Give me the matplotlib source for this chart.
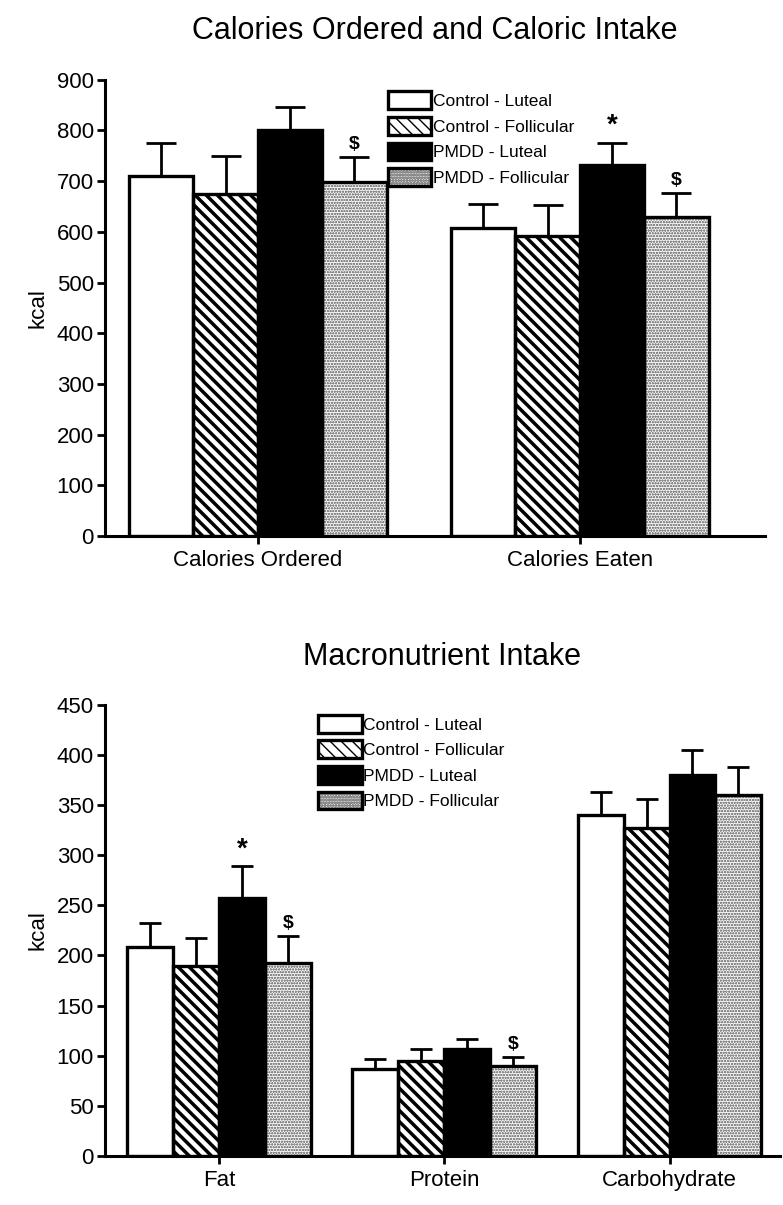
import numpy as np
import matplotlib.pyplot as plt

plt.rcParams['font.family'] = ['Liberation Sans', 'DejaVu Sans']

# ---------------- Data ----------------
groups = ["Control - Luteal", "Control - Follicular", "PMDD - Luteal", "PMDD - Follicular"]

cal_categories = ["Calories Ordered", "Calories Eaten"]
cal_means = {
    "Control - Luteal": [710, 607],
    "Control - Follicular": [675, 592],
    "PMDD - Luteal": [800, 732],
    "PMDD - Follicular": [698, 630],
}
cal_sem = {
    "Control - Luteal": [65, 48],
    "Control - Follicular": [75, 60],
    "PMDD - Luteal": [45, 43],
    "PMDD - Follicular": [50, 47],
}
cal_marks = {("PMDD - Luteal", 1): "*", ("PMDD - Follicular", 0): "$", ("PMDD - Follicular", 1): "$"}

macro_categories = ["Fat", "Protein", "Carbohydrate"]
macro_means = {
    "Control - Luteal": [208, 87, 340],
    "Control - Follicular": [190, 95, 327],
    "PMDD - Luteal": [257, 107, 380],
    "PMDD - Follicular": [193, 90, 360],
}
macro_sem = {
    "Control - Luteal": [24, 10, 23],
    "Control - Follicular": [27, 12, 29],
    "PMDD - Luteal": [32, 10, 25],
    "PMDD - Follicular": [26, 9, 28],
}
macro_marks = {("PMDD - Luteal", 0): "*", ("PMDD - Follicular", 0): "$", ("PMDD - Follicular", 1): "$"}

# ---------------- Styles ----------------
# (face colour, hatch, hatch colour, hatch linewidth)
styles = {
    "Control - Luteal": ("white", None, "black", 1.0),
    "Control - Follicular": ("white", "\\\\\\", "black", 2.5),
    "PMDD - Luteal": ("black", None, "black", 1.0),
    "PMDD - Follicular": ("#f4f4f4", "oooooo", "#8a8a8a", 0.6),
}


def draw_panel(ax, categories, means, sems, marks, width, ylim, step, title, legend_pos,
               mark_pad, capsize):
    x = np.arange(len(categories))
    offsets = (np.arange(len(groups)) - 1.5) * width
    handles = []
    for i, g in enumerate(groups):
        face, hatch, hcol, hlw = styles[g]
        with plt.rc_context({"hatch.linewidth": hlw}):
            fill = ax.bar(x + offsets[i], means[g], width, facecolor=face, hatch=hatch,
                          edgecolor=hcol, linewidth=0, zorder=2)
            for p in fill:
                if hasattr(p, "set_hatch_linewidth"):
                    p.set_hatch_linewidth(hlw)
        outline = ax.bar(x + offsets[i], means[g], width, facecolor="none",
                         edgecolor="black", linewidth=2.4, zorder=3)
        handles.append((fill[0], outline[0]))
        # upper error bars only
        ax.errorbar(x + offsets[i], means[g], yerr=[np.zeros(len(x)), sems[g]], fmt="none",
                    ecolor="black", elinewidth=2, capsize=capsize, capthick=2, zorder=1)
        for j in range(len(x)):
            if (g, j) in marks:
                sym = marks[(g, j)]
                ax.text(x[j] + offsets[i], means[g][j] + sems[g][j] + mark_pad, sym,
                        ha="center", va="bottom", fontsize=20 if sym == "*" else 14,
                        fontweight="bold")
    ax.set_ylim(*ylim)
    ax.set_yticks(np.arange(ylim[0], ylim[1] + 1, step))
    ax.set_xticks(x)
    ax.set_xticklabels(categories, fontsize=16)
    ax.tick_params(axis="y", labelsize=16, width=2, length=6, pad=2)
    ax.tick_params(axis="x", width=2, length=6, pad=4)
    for s in ["top", "right"]:
        ax.spines[s].set_visible(False)
    for s in ["left", "bottom"]:
        ax.spines[s].set_linewidth(2.2)
    ax.set_ylabel("kcal", fontsize=16, labelpad=6)
    ax.set_title(title, fontsize=22, pad=29)
    ax.legend(handles, groups, loc="upper left", bbox_to_anchor=legend_pos, frameon=False,
              fontsize=12.5, handlelength=2.5, handleheight=1.2, handletextpad=0.1,
              labelspacing=0.45, borderaxespad=0, borderpad=0)


fig = plt.figure(figsize=(7.83, 12.05), dpi=100)

ax1 = fig.add_axes([0.134, 0.555, 0.843, 0.379])
draw_panel(ax1, cal_categories, cal_means, cal_sem, cal_marks, 0.2, (0, 900), 100,
           "Calories Ordered and Caloric Intake", (0.429, 0.974), 8, 11)
ax1.set_xlim(-0.475, 1.575)

ax2 = fig.add_axes([0.134, 0.0407, 0.862, 0.3743])
draw_panel(ax2, macro_categories, macro_means, macro_sem, macro_marks, 0.204, (0, 450), 50,
           "Macronutrient Intake", (0.316, 0.978), 4, 8)
ax2.set_xlim(-0.507, 2.49)

fig.savefig("out.png", dpi=100)
